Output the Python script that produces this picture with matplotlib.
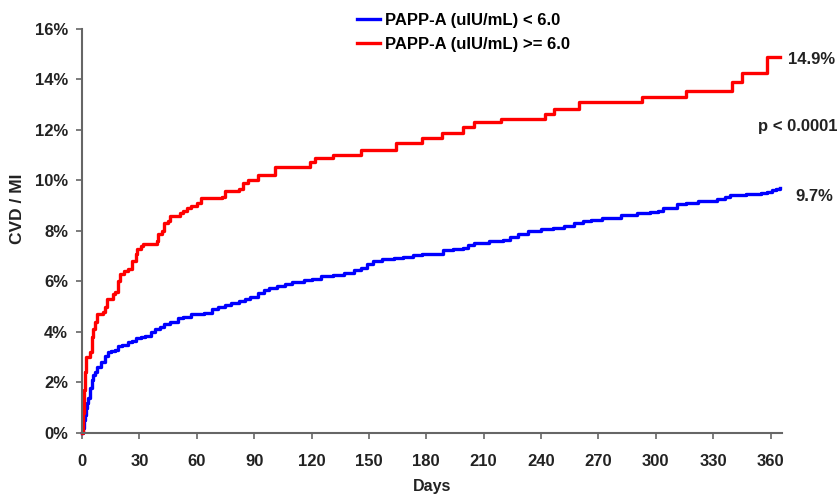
import matplotlib
matplotlib.use('Agg')
import matplotlib.pyplot as plt

plt.rcParams['font.family'] = ['Liberation Sans', 'DejaVu Sans']
plt.rcParams['font.weight'] = 'bold'

# cumulative incidence (%)
red_days = [0, 0.5, 1, 1.5, 2, 4, 5, 6, 7, 8, 11, 12, 13, 16, 17, 19, 20, 22, 24, 26,
            28, 29, 31, 32, 39, 40, 42, 43, 45, 46, 51, 53, 55, 57, 60, 62, 73, 75, 82, 84,
            87, 92, 101, 119, 122, 131, 146, 164, 178, 188, 199, 205, 219, 242, 247, 260,
            293, 316, 340, 345, 358, 365]
red_pct = [0, 0.8, 1.7, 2.4, 3.0, 3.2, 3.8, 4.1, 4.4, 4.7, 4.8, 5.0, 5.3, 5.5, 5.6, 6.0,
           6.3, 6.4, 6.5, 6.8, 7.1, 7.3, 7.4, 7.5, 7.6, 7.9, 8.0, 8.3, 8.4, 8.6, 8.7, 8.8,
           8.9, 9.0, 9.1, 9.3, 9.35, 9.6, 9.65, 9.9, 10.0, 10.2, 10.55, 10.75, 10.9, 11.0,
           11.2, 11.5, 11.7, 11.9, 12.1, 12.3, 12.45, 12.65, 12.85, 13.1, 13.3, 13.55,
           13.9, 14.25, 14.9, 14.9]

blue_days = [0, 0.5, 1, 1.6, 2, 2.5, 3, 4, 5, 6, 7, 8, 10, 12, 13.6, 15, 17, 19, 21, 24,
             26, 28, 31, 33, 36, 38, 41, 43, 46, 50, 53, 57, 61, 64, 68, 71, 75, 78, 82,
             85, 88, 92, 95, 98, 102, 106, 110, 116, 120, 125, 131, 137, 142, 146, 149,
             152, 157, 163, 168, 173, 178, 184, 189, 194, 199, 202, 205, 213, 220, 224,
             228, 233, 240, 246, 252, 257, 262, 266, 272, 278, 282, 290, 297, 301, 304,
             311, 316, 322, 327, 332, 336, 339, 347, 355, 358, 361, 363, 365]
blue_pct = [0, 0.2, 0.5, 0.7, 1.0, 1.2, 1.4, 1.8, 2.1, 2.3, 2.4, 2.6, 2.8, 3.05, 3.2,
            3.25, 3.3, 3.45, 3.5, 3.6, 3.65, 3.75, 3.8, 3.85, 4.0, 4.1, 4.2, 4.3, 4.4,
            4.55, 4.6, 4.7, 4.72, 4.76, 4.9, 5.0, 5.08, 5.15, 5.22, 5.3, 5.4, 5.55, 5.65,
            5.75, 5.83, 5.92, 5.98, 6.07, 6.1, 6.2, 6.27, 6.35, 6.45, 6.55, 6.68, 6.8,
            6.9, 6.95, 6.98, 7.06, 7.08, 7.1, 7.26, 7.3, 7.34, 7.45, 7.54, 7.6, 7.66,
            7.78, 7.9, 8.0, 8.07, 8.12, 8.2, 8.33, 8.4, 8.45, 8.5, 8.53, 8.65, 8.73,
            8.75, 8.8, 8.93, 9.05, 9.1, 9.17, 9.2, 9.25, 9.35, 9.44, 9.47, 9.52, 9.56,
            9.62, 9.67, 9.72]

x_ticks = list(range(0, 361, 30))
y_ticks = list(range(0, 17, 2))

fig = plt.figure(figsize=(8.4, 4.94), dpi=100)
ax = fig.add_axes([0.0976, 0.1235, 0.8334, 0.8178])

ax.step(blue_days, blue_pct, where='post', color='#0000ff', lw=2.4,
        label='PAPP-A (uIU/mL) < 6.0', clip_on=False)
ax.step(red_days, red_pct, where='post', color='#ff0000', lw=2.4,
        label='PAPP-A (uIU/mL) >= 6.0', clip_on=False)

ax.set_xlim(0, 366)
ax.set_ylim(0, 16)
ax.set_xticks(x_ticks)
ax.set_yticks(y_ticks)
ax.set_yticklabels(['%d%%' % v for v in y_ticks])

for s in ['top', 'right']:
    ax.spines[s].set_visible(False)
for s in ['left', 'bottom']:
    ax.spines[s].set_color('#666666')
    ax.spines[s].set_linewidth(1.5)
ax.tick_params(axis='both', colors='#666666', labelcolor='#222222', width=1.2,
               length=4, labelsize=12)
ax.tick_params(axis='x', pad=11)
ax.tick_params(axis='y', pad=6)

ax.set_xlabel('Days', fontsize=11.5, fontweight='bold', color='#222222')
ax.set_ylabel('CVD / MI', fontsize=12.5, fontweight='bold', color='#222222')
ax.xaxis.set_label_coords(0.5, -0.114)
ax.yaxis.set_label_coords(-0.0814, 0.555)

ax.text(369, 14.8, '14.9%', ha='left', va='center', fontsize=12, clip_on=False,
        color='#222222')
ax.text(373, 9.37, '9.7%', ha='left', va='center', fontsize=12, clip_on=False,
        color='#222222')
ax.text(353.5, 12.15, 'p < 0.0001', ha='left', va='center', fontsize=12,
        clip_on=False, color='#222222')

fig.legend(loc='upper left', bbox_to_anchor=(0.425, 0.974), frameon=False,
           fontsize=12, handlelength=1.4, handletextpad=0.3, labelspacing=0.55,
           borderpad=0, borderaxespad=0)

fig.savefig('out.png', dpi=100)
